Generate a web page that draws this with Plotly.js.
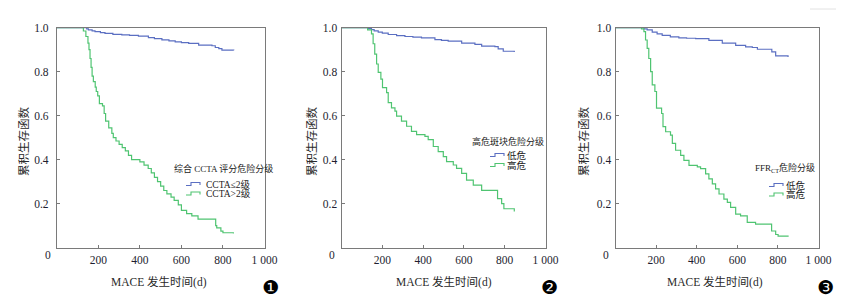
<!DOCTYPE html>
<html><head><meta charset="utf-8">
<script src="https://cdn.plot.ly/plotly-3.0.1.min.js"></script>
<style>body{margin:0;background:#fff}#chart{width:852px;height:300px}</style>
</head><body><div id="chart"></div>
<script>
// ---------- data ----------
const xTickVals = [200, 400, 600, 800, 1000];
const xTickText = ['200', '400', '600', '800', '1 000'];
const yTickVals = [0.2, 0.4, 0.6, 0.8, 1.0];
const yTickText = ['0.2', '0.4', '0.6', '0.8', '1.0'];

const legendTitles = ['综合 CCTA 评分危险分级', '高危斑块危险分级', 'FFR<sub>CT</sub>危险分级'];
const seriesNames1 = ['CCTA≤2级', 'CCTA>2级'];
const seriesNames2 = ['低危', '高危'];
const seriesNames3 = ['低危', '高危'];
const yTitle = '累积生存函数';
const xTitle = 'MACE 发生时间(d)';
const badges = ['❶', '❷', '❸'];

// Panel 1: CCTA score
const p1LowT = [0, 144, 152, 170, 184, 210, 232, 270, 313, 350, 393, 441, 470, 506, 540, 570, 600, 635, 683, 747, 763, 780, 795, 852];
const p1LowS = [1, 0.995, 0.99, 0.986, 0.982, 0.978, 0.974, 0.970, 0.967, 0.965, 0.962, 0.955, 0.95, 0.945, 0.94, 0.936, 0.932, 0.929, 0.921, 0.918, 0.91, 0.905, 0.898, 0.897];
const p1HighT = [0, 128, 140, 150, 155, 160, 165, 170, 176, 185, 190, 197, 205, 220, 228, 235, 250, 265, 272, 285, 300, 315, 330, 345, 360, 400, 420, 440, 455, 470, 485, 500, 515, 530, 550, 565, 585, 600, 625, 650, 680, 765, 770, 790, 800, 850];
const p1HighS = [1, 0.985, 0.96, 0.93, 0.90, 0.86, 0.82, 0.78, 0.755, 0.73, 0.71, 0.69, 0.655, 0.645, 0.61, 0.575, 0.545, 0.52, 0.50, 0.485, 0.47, 0.455, 0.44, 0.42, 0.40, 0.39, 0.375, 0.36, 0.34, 0.32, 0.30, 0.28, 0.26, 0.245, 0.23, 0.215, 0.195, 0.17, 0.155, 0.145, 0.13, 0.10, 0.09, 0.075, 0.068, 0.065];

// Panel 2: high-risk plaque
const p2LowT = [0, 131, 147, 160, 180, 200, 229, 270, 311, 350, 392, 458, 490, 523, 589, 654, 687, 752, 768, 793, 847];
const p2LowS = [1, 0.996, 0.991, 0.986, 0.98, 0.975, 0.969, 0.964, 0.96, 0.957, 0.954, 0.946, 0.942, 0.939, 0.93, 0.924, 0.916, 0.914, 0.904, 0.893, 0.89];
const p2HighT = [0, 128, 147, 155, 163, 172, 180, 193, 201, 221, 229, 245, 262, 270, 294, 319, 343, 368, 409, 425, 450, 474, 499, 515, 548, 564, 589, 613, 646, 687, 765, 785, 796, 847];
const p2HighS = [1, 0.99, 0.972, 0.927, 0.88, 0.835, 0.797, 0.766, 0.728, 0.705, 0.659, 0.636, 0.621, 0.598, 0.575, 0.552, 0.529, 0.514, 0.506, 0.491, 0.46, 0.437, 0.414, 0.391, 0.376, 0.361, 0.338, 0.307, 0.284, 0.261, 0.223, 0.2, 0.177, 0.165];

// Panel 3: FFRct
const p3LowT = [0, 140, 156, 181, 205, 230, 270, 312, 350, 395, 460, 526, 592, 641, 674, 699, 770, 789, 850];
const p3LowS = [1, 0.995, 0.99, 0.98, 0.972, 0.965, 0.958, 0.954, 0.952, 0.95, 0.942, 0.93, 0.92, 0.913, 0.91, 0.902, 0.89, 0.872, 0.867];
const p3HighT = [0, 128, 140, 148, 156, 164, 173, 181, 194, 202, 227, 234, 247, 271, 280, 296, 321, 337, 362, 403, 419, 444, 460, 477, 493, 510, 534, 551, 567, 592, 616, 649, 690, 769, 789, 801, 850];
const p3HighS = [1, 0.995, 0.982, 0.944, 0.906, 0.86, 0.80, 0.74, 0.71, 0.634, 0.61, 0.55, 0.527, 0.512, 0.474, 0.443, 0.42, 0.397, 0.374, 0.367, 0.359, 0.336, 0.313, 0.29, 0.267, 0.244, 0.221, 0.206, 0.183, 0.153, 0.145, 0.115, 0.107, 0.076, 0.06, 0.053, 0.05];

// ---------- layout helpers ----------
const W = 852, H = 300;
const BLUE = '#5b6fc2', GREEN = '#4fc471';
const AX = '#7a7a7a', TXT = '#1e1e30';
const SERIF = 'Liberation Serif, Times New Roman, serif';
const CJK = 'Liberation Serif, Noto Sans CJK SC, serif';
const pxX = v => v / W, pxY = v => 1 - v / H;

const panels = [
  {x0: 56.8, x1: 264.5, stand: 5, ytl: 23, xtl: 159, zero: 53, badge: 270,
   leg: {tx: 172, ty: 168, gx: 186, tx2: 204, r1: 184, r2: 193.5}},
  {x0: 341.5, x1: 545.5, stand: 1, ytl: 311, xtl: 444, zero: 337, badge: 549,
   leg: {tx: 470, ty: 141, gx: 490, tx2: 505, r1: 155, r2: 165}},
  {x0: 615.5, x1: 818.5, stand: 1, ytl: 583, xtl: 715, zero: 611, badge: 825,
   leg: {tx: 753, ty: 168, gx: 769, tx2: 784, r1: 185, r2: 194.5}}
];
const yTop = 27.7, yBot = 247.7;

const allData = [
  [p1LowT, p1LowS, p1HighT, p1HighS, seriesNames1],
  [p2LowT, p2LowS, p2HighT, p2HighS, seriesNames2],
  [p3LowT, p3LowS, p3HighT, p3HighS, seriesNames3]
];

const traces = [];
const layout = {
  width: W, height: H, margin: {l: 0, r: 0, t: 0, b: 0},
  paper_bgcolor: '#fff', plot_bgcolor: '#fff', showlegend: false,
  annotations: [], shapes: []
};

function glyph(x0, y, color) {
  const w = 14;
  const p = (a, b) => pxX(a) + ',' + pxY(b);
  return {type: 'path', xref: 'paper', yref: 'paper',
    path: 'M' + p(x0, y + 1.5) + ' L' + p(x0 + 5, y + 1.5) + ' L' + p(x0 + 5, y - 1.5) +
          ' L' + p(x0 + w, y - 1.5) + ' L' + p(x0 + w, y + 1),
    line: {color: color, width: 1.1}};
}

panels.forEach((P, i) => {
  const sfx = i === 0 ? '' : String(i + 1);
  const [lt, ls, ht, hs, names] = allData[i];
  traces.push({x: lt, y: ls, name: names[0], type: 'scatter', mode: 'lines',
    line: {shape: 'hv', color: BLUE, width: 1.2}, xaxis: 'x' + sfx, yaxis: 'y' + sfx});
  traces.push({x: ht, y: hs, name: names[1], type: 'scatter', mode: 'lines',
    line: {shape: 'hv', color: GREEN, width: 1.2}, xaxis: 'x' + sfx, yaxis: 'y' + sfx});

  layout['xaxis' + sfx] = {
    domain: [pxX(P.x0), pxX(P.x1)], range: [0, 1000], anchor: 'y' + sfx,
    tickmode: 'array', tickvals: xTickVals, ticktext: xTickText,
    ticks: 'inside', ticklen: 3, tickcolor: AX, tickwidth: 1,
    showline: true, linecolor: AX, linewidth: 1, mirror: true,
    showgrid: false, zeroline: false, ticklabelstandoff: 1,
    tickfont: {family: SERIF, size: 11.5, color: TXT}, fixedrange: true
  };
  layout['yaxis' + sfx] = {
    domain: [pxY(yBot), pxY(yTop)], range: [0, 1], anchor: 'x' + sfx,
    tickmode: 'array', tickvals: yTickVals, ticktext: yTickText,
    ticks: 'inside', ticklen: 3, tickcolor: AX, tickwidth: 1,
    showline: true, linecolor: AX, linewidth: 1, mirror: true,
    showgrid: false, zeroline: false, ticklabelstandoff: P.stand,
    tickfont: {family: SERIF, size: 11.5, color: TXT}, fixedrange: true
  };

  const A = layout.annotations;
  A.push({text: yTitle, xref: 'paper', yref: 'paper', x: pxX(P.ytl), y: pxY(142),
    textangle: -90, showarrow: false, xanchor: 'center', yanchor: 'middle',
    font: {family: CJK, size: 11.5, color: '#2a2a2a'}});
  A.push({text: xTitle, xref: 'paper', yref: 'paper', x: pxX(P.xtl), y: pxY(282),
    showarrow: false, xanchor: 'center', yanchor: 'middle',
    font: {family: CJK, size: 11.5, color: '#2a2a2a'}});
  A.push({text: '0', xref: 'paper', yref: 'paper', x: pxX(P.zero), y: pxY(255),
    showarrow: false, xanchor: 'right', yanchor: 'middle',
    font: {family: SERIF, size: 11.5, color: TXT}});
  A.push({text: badges[i], xref: 'paper', yref: 'paper', x: pxX(P.badge), y: pxY(287),
    showarrow: false, xanchor: 'center', yanchor: 'middle',
    font: {family: 'DejaVu Sans', size: 19, color: '#000'}});
  const L = P.leg;
  A.push({text: legendTitles[i], xref: 'paper', yref: 'paper', x: pxX(L.tx), y: pxY(L.ty),
    showarrow: false, xanchor: 'left', yanchor: 'middle',
    font: {family: CJK, size: 9, color: '#222'}});
  A.push({text: names[0], xref: 'paper', yref: 'paper', x: pxX(L.tx2), y: pxY(L.r1),
    showarrow: false, xanchor: 'left', yanchor: 'middle',
    font: {family: CJK, size: 9.5, color: '#222'}});
  A.push({text: names[1], xref: 'paper', yref: 'paper', x: pxX(L.tx2), y: pxY(L.r2),
    showarrow: false, xanchor: 'left', yanchor: 'middle',
    font: {family: CJK, size: 9.5, color: '#222'}});
  layout.shapes.push(glyph(L.gx, L.r1, BLUE));
  layout.shapes.push(glyph(L.gx, L.r2, GREEN));
});

layout.shapes.push({type: 'line', xref: 'paper', yref: 'paper',
  x0: pxX(810), x1: pxX(836), y0: pxY(9), y1: pxY(9), line: {color: '#e2e2e2', width: 1}});

Plotly.newPlot('chart', traces, layout, {staticPlot: true, displayModeBar: false});
</script>
</body></html>
